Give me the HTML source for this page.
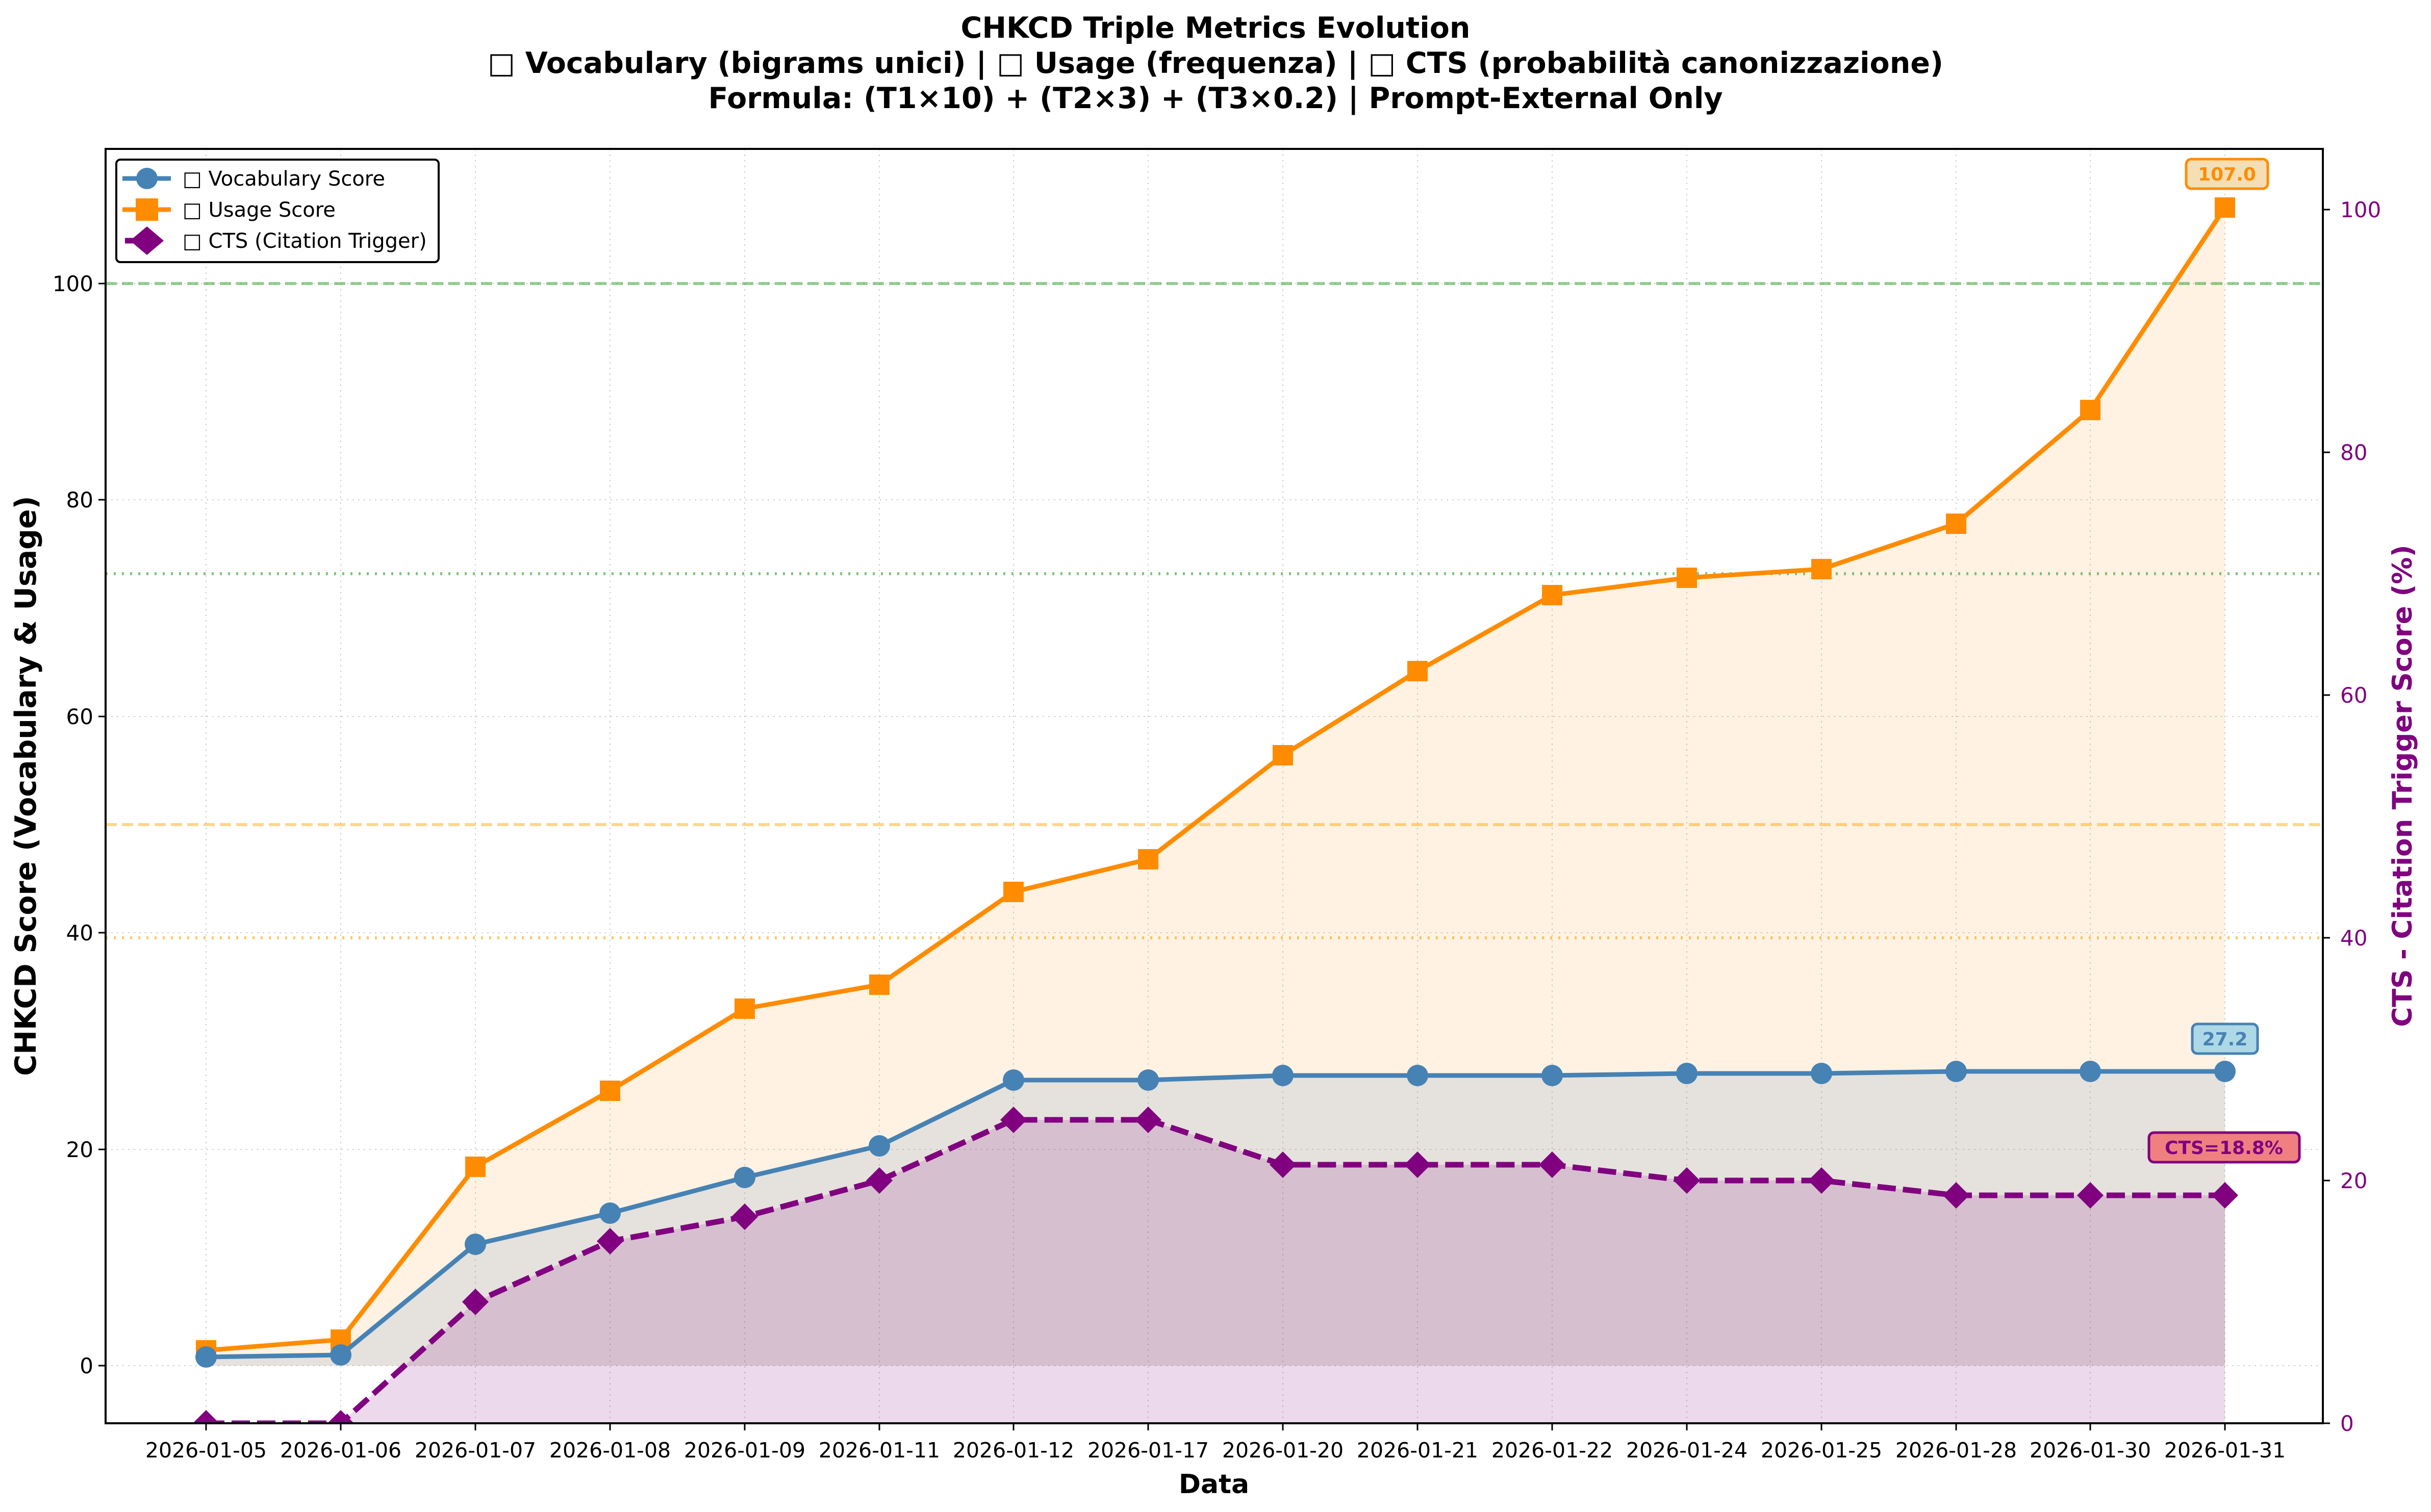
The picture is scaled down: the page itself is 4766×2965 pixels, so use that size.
<!DOCTYPE html>
<html><head><meta charset="utf-8"><style>
html,body{margin:0;padding:0;background:#fff}
svg{display:block}
text{font-family:"DejaVu Sans","Liberation Sans",sans-serif}
</style></head><body>
<svg width="4766" height="2965" viewBox="0 0 4766 2965" xmlns="http://www.w3.org/2000/svg">
<rect width="4766" height="2965" fill="#fff"/>
<g font-weight="bold" font-size="57" text-anchor="middle" fill="#000">
<text x="2383" y="74">CHKCD Triple Metrics Evolution</text>
<text x="2383" y="143">□ Vocabulary (bigrams unici) | □ Usage (frequenza) | □ CTS (probabilità canonizzazione)</text>
<text x="2383" y="212">Formula: (T1×10) + (T2×3) + (T3×0.2) | Prompt-External Only</text>
</g>
<defs><clipPath id="ax"><rect x="207" y="292" width="4347" height="2499"/></clipPath></defs>
<g stroke="#d0d0d0" stroke-width="2" stroke-dasharray="3,8">
<line x1="404" y1="292" x2="404" y2="2791"/><line x1="668" y1="292" x2="668" y2="2791"/><line x1="932" y1="292" x2="932" y2="2791"/><line x1="1196" y1="292" x2="1196" y2="2791"/><line x1="1460" y1="292" x2="1460" y2="2791"/><line x1="1724" y1="292" x2="1724" y2="2791"/><line x1="1987" y1="292" x2="1987" y2="2791"/><line x1="2251" y1="292" x2="2251" y2="2791"/><line x1="2515" y1="292" x2="2515" y2="2791"/><line x1="2779" y1="292" x2="2779" y2="2791"/><line x1="3043" y1="292" x2="3043" y2="2791"/><line x1="3307" y1="292" x2="3307" y2="2791"/><line x1="3571" y1="292" x2="3571" y2="2791"/><line x1="3835" y1="292" x2="3835" y2="2791"/><line x1="4098" y1="292" x2="4098" y2="2791"/><line x1="4362" y1="292" x2="4362" y2="2791"/>
<line x1="207" y1="2678" x2="4554" y2="2678"/><line x1="207" y1="2254" x2="4554" y2="2254"/><line x1="207" y1="1829" x2="4554" y2="1829"/><line x1="207" y1="1405" x2="4554" y2="1405"/><line x1="207" y1="980" x2="4554" y2="980"/><line x1="207" y1="556" x2="4554" y2="556"/>
</g>
<g clip-path="url(#ax)">
<polygon fill="#ff8c00" fill-opacity="0.11" points="404,2648 668,2627 932,2288 1196,2139 1460,1978 1724,1931 1987,1749 2251,1685 2515,1481 2779,1316 3043,1167 3307,1133 3571,1116 3835,1027 4098,804 4362,407 4362,2678 404,2678"/>
<polygon fill="#4682b4" fill-opacity="0.14" points="404,2661 668,2657 932,2440 1196,2379 1460,2309 1724,2247 1987,2118 2251,2118 2515,2109 2779,2109 3043,2109 3307,2105 3571,2105 3835,2101 4098,2101 4362,2101 4362,2678 404,2678"/>
<polygon fill="#800080" fill-opacity="0.15" points="404,2791 668,2791 932,2553 1196,2434 1460,2386 1724,2315 1987,2196 2251,2196 2515,2284 2779,2284 3043,2284 3307,2315 3571,2315 3835,2344 4098,2344 4362,2344 4362,2791 404,2791"/>
<line x1="207" y1="556" x2="4554" y2="556" stroke="#2ca02c" stroke-opacity="0.5" stroke-width="6" stroke-dasharray="22,10"/>
<line x1="207" y1="1125" x2="4554" y2="1125" stroke="#2ca02c" stroke-opacity="0.6" stroke-width="6" stroke-dasharray="4,12"/>
<line x1="207" y1="1617" x2="4554" y2="1617" stroke="#ffa500" stroke-opacity="0.45" stroke-width="6" stroke-dasharray="22,10"/>
<line x1="207" y1="1839" x2="4554" y2="1839" stroke="#ffa500" stroke-opacity="0.6" stroke-width="6" stroke-dasharray="4,12"/>
<polyline fill="none" stroke="#ff8c00" stroke-width="9" stroke-linejoin="round" points="404,2648 668,2627 932,2288 1196,2139 1460,1978 1724,1931 1987,1749 2251,1685 2515,1481 2779,1316 3043,1167 3307,1133 3571,1116 3835,1027 4098,804 4362,407"/>
<g fill="#ff8c00">
<rect x="384" y="2628" width="40" height="40"/><rect x="648" y="2607" width="40" height="40"/><rect x="912" y="2268" width="40" height="40"/><rect x="1176" y="2119" width="40" height="40"/><rect x="1440" y="1958" width="40" height="40"/><rect x="1704" y="1911" width="40" height="40"/><rect x="1967" y="1729" width="40" height="40"/><rect x="2231" y="1665" width="40" height="40"/><rect x="2495" y="1461" width="40" height="40"/><rect x="2759" y="1296" width="40" height="40"/><rect x="3023" y="1147" width="40" height="40"/><rect x="3287" y="1113" width="40" height="40"/><rect x="3551" y="1096" width="40" height="40"/><rect x="3815" y="1007" width="40" height="40"/><rect x="4078" y="784" width="40" height="40"/><rect x="4342" y="387" width="40" height="40"/>
</g>
<polyline fill="none" stroke="#4682b4" stroke-width="9" stroke-linejoin="round" points="404,2661 668,2657 932,2440 1196,2379 1460,2309 1724,2247 1987,2118 2251,2118 2515,2109 2779,2109 3043,2109 3307,2105 3571,2105 3835,2101 4098,2101 4362,2101"/>
<g fill="#4682b4">
<circle cx="404" cy="2661" r="21"/><circle cx="668" cy="2657" r="21"/><circle cx="932" cy="2440" r="21"/><circle cx="1196" cy="2379" r="21"/><circle cx="1460" cy="2309" r="21"/><circle cx="1724" cy="2247" r="21"/><circle cx="1987" cy="2118" r="21"/><circle cx="2251" cy="2118" r="21"/><circle cx="2515" cy="2109" r="21"/><circle cx="2779" cy="2109" r="21"/><circle cx="3043" cy="2109" r="21"/><circle cx="3307" cy="2105" r="21"/><circle cx="3571" cy="2105" r="21"/><circle cx="3835" cy="2101" r="21"/><circle cx="4098" cy="2101" r="21"/><circle cx="4362" cy="2101" r="21"/>
</g>
<polyline fill="none" stroke="#800080" stroke-width="11" stroke-dasharray="36,14" stroke-linejoin="round" points="404,2791 668,2791 932,2553 1196,2434 1460,2386 1724,2315 1987,2196 2251,2196 2515,2284 2779,2284 3043,2284 3307,2315 3571,2315 3835,2344 4098,2344 4362,2344"/>
<g fill="#800080">
<path d="M404 2765l26 26-26 26-26-26z"/><path d="M668 2765l26 26-26 26-26-26z"/><path d="M932 2527l26 26-26 26-26-26z"/><path d="M1196 2408l26 26-26 26-26-26z"/><path d="M1460 2360l26 26-26 26-26-26z"/><path d="M1724 2289l26 26-26 26-26-26z"/><path d="M1987 2170l26 26-26 26-26-26z"/><path d="M2251 2170l26 26-26 26-26-26z"/><path d="M2515 2258l26 26-26 26-26-26z"/><path d="M2779 2258l26 26-26 26-26-26z"/><path d="M3043 2258l26 26-26 26-26-26z"/><path d="M3307 2289l26 26-26 26-26-26z"/><path d="M3571 2289l26 26-26 26-26-26z"/><path d="M3835 2318l26 26-26 26-26-26z"/><path d="M4098 2318l26 26-26 26-26-26z"/><path d="M4362 2318l26 26-26 26-26-26z"/>
</g>
</g>
<g font-weight="bold" font-size="36" text-anchor="middle">
<rect x="4286" y="312" width="160" height="58" rx="10" fill="#f5deb3" stroke="#ff8c00" stroke-width="5"/>
<text x="4366" y="354" fill="#ff8c00">107.0</text>
<rect x="4298" y="2008" width="128" height="58" rx="10" fill="#add8e6" stroke="#4682b4" stroke-width="5"/>
<text x="4362" y="2050" fill="#4682b4">27.2</text>
<rect x="4213" y="2221" width="295" height="58" rx="10" fill="#f08080" stroke="#800080" stroke-width="5"/>
<text x="4360" y="2263" fill="#800080">CTS=18.8%</text>
</g>
<rect x="207" y="292" width="4347" height="2499" fill="none" stroke="#000" stroke-width="4"/>
<g stroke="#000" stroke-width="3">
<line x1="193" y1="2678" x2="207" y2="2678"/><line x1="193" y1="2254" x2="207" y2="2254"/><line x1="193" y1="1829" x2="207" y2="1829"/><line x1="193" y1="1405" x2="207" y2="1405"/><line x1="193" y1="980" x2="207" y2="980"/><line x1="193" y1="556" x2="207" y2="556"/>
</g>
<g font-size="42" text-anchor="end" fill="#000">
<text x="183" y="2693">0</text><text x="183" y="2269">20</text><text x="183" y="1844">40</text><text x="183" y="1420">60</text><text x="183" y="995">80</text><text x="183" y="571">100</text>
</g>
<g stroke="#000" stroke-width="3">
<line x1="4554" y1="2791" x2="4568" y2="2791"/><line x1="4554" y1="2315" x2="4568" y2="2315"/><line x1="4554" y1="1839" x2="4568" y2="1839"/><line x1="4554" y1="1363" x2="4568" y2="1363"/><line x1="4554" y1="887" x2="4568" y2="887"/><line x1="4554" y1="411" x2="4568" y2="411"/>
</g>
<g font-size="42" fill="#800080">
<text x="4588" y="2806">0</text><text x="4588" y="2330">20</text><text x="4588" y="1854">40</text><text x="4588" y="1378">60</text><text x="4588" y="902">80</text><text x="4588" y="426">100</text>
</g>
<g stroke="#000" stroke-width="3">
<line x1="404" y1="2791" x2="404" y2="2805"/><line x1="668" y1="2791" x2="668" y2="2805"/><line x1="932" y1="2791" x2="932" y2="2805"/><line x1="1196" y1="2791" x2="1196" y2="2805"/><line x1="1460" y1="2791" x2="1460" y2="2805"/><line x1="1724" y1="2791" x2="1724" y2="2805"/><line x1="1987" y1="2791" x2="1987" y2="2805"/><line x1="2251" y1="2791" x2="2251" y2="2805"/><line x1="2515" y1="2791" x2="2515" y2="2805"/><line x1="2779" y1="2791" x2="2779" y2="2805"/><line x1="3043" y1="2791" x2="3043" y2="2805"/><line x1="3307" y1="2791" x2="3307" y2="2805"/><line x1="3571" y1="2791" x2="3571" y2="2805"/><line x1="3835" y1="2791" x2="3835" y2="2805"/><line x1="4098" y1="2791" x2="4098" y2="2805"/><line x1="4362" y1="2791" x2="4362" y2="2805"/>
</g>
<g font-size="41" text-anchor="middle" fill="#000">
<text x="404" y="2858">2026-01-05</text><text x="668" y="2858">2026-01-06</text><text x="932" y="2858">2026-01-07</text><text x="1196" y="2858">2026-01-08</text><text x="1460" y="2858">2026-01-09</text><text x="1724" y="2858">2026-01-11</text><text x="1987" y="2858">2026-01-12</text><text x="2251" y="2858">2026-01-17</text><text x="2515" y="2858">2026-01-20</text><text x="2779" y="2858">2026-01-21</text><text x="3043" y="2858">2026-01-22</text><text x="3307" y="2858">2026-01-24</text><text x="3571" y="2858">2026-01-25</text><text x="3835" y="2858">2026-01-28</text><text x="4098" y="2858">2026-01-30</text><text x="4362" y="2858">2026-01-31</text>
</g>
<text x="2380" y="2928" font-size="52" font-weight="bold" text-anchor="middle">Data</text>
<text transform="translate(70,1541) rotate(-90)" font-size="57" font-weight="bold" text-anchor="middle">CHKCD Score (Vocabulary &amp; Usage)</text>
<text transform="translate(4728,1541) rotate(-90)" font-size="53" font-weight="bold" text-anchor="middle" fill="#800080">CTS - Citation Trigger Score (%)</text>
<rect x="228" y="313" width="632" height="201" rx="8" fill="#fff" fill-opacity="0.9" stroke="#000" stroke-width="4"/>
<line x1="240" y1="350" x2="335" y2="350" stroke="#4682b4" stroke-width="9"/>
<circle cx="288" cy="350" r="21" fill="#4682b4"/>
<line x1="240" y1="411" x2="335" y2="411" stroke="#ff8c00" stroke-width="9"/>
<rect x="266" y="389" width="44" height="44" fill="#ff8c00"/>
<line x1="245" y1="472" x2="290" y2="472" stroke="#800080" stroke-width="11"/>
<path d="M288 444l33 28-33 28-33-28z" fill="#800080"/>
<g font-size="40" fill="#000">
<text x="358" y="364">□ Vocabulary Score</text>
<text x="358" y="425">□ Usage Score</text>
<text x="358" y="486">□ CTS (Citation Trigger)</text>
</g>
</svg>
</body></html>
